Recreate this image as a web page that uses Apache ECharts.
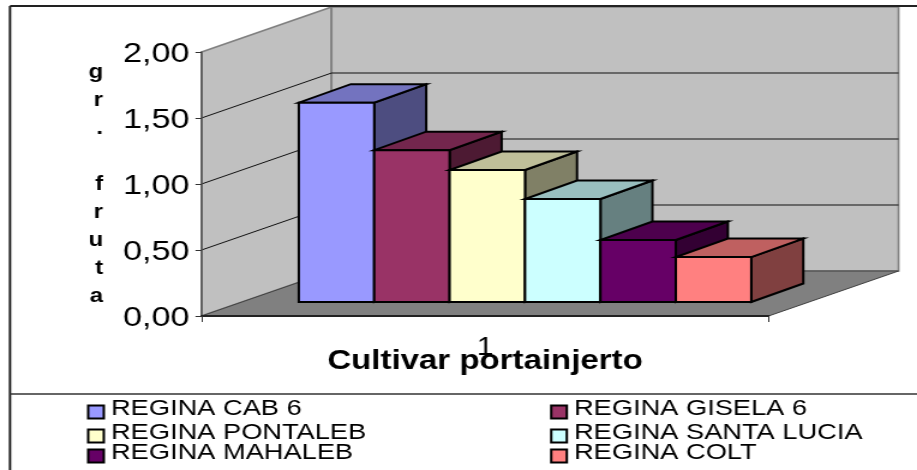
<!DOCTYPE html>
<html>
<head>
<meta charset="utf-8">
<script src="https://cdn.jsdelivr.net/npm/echarts@6/dist/echarts.min.js"></script>
<style>
html, body { margin: 0; padding: 0; overflow: hidden; background: #fff; }
/* the original picture is stretched sideways, so the whole chart is too */
#main { width: 764px; height: 470px; transform: scaleX(1.2003); transform-origin: 0 0; }
</style>
</head>
<body>
<div id="main"></div>
<script>
const categories = ["1"];
const seriesNames = [
  "REGINA CAB 6",
  "REGINA GISELA 6",
  "REGINA PONTALEB",
  "REGINA SANTA LUCIA",
  "REGINA MAHALEB",
  "REGINA COLT"
];
const seriesValues = [1.51, 1.15, 1.0, 0.78, 0.47, 0.34];
const yTicks = [0, 0.5, 1, 1.5, 2];
const yAxisTitle = "g\nr\n.\n \nf\nr\nu\nt\na";
const xAxisTitle = "Cultivar portainjerto";

const colors = ["#9999ff", "#993366", "#ffffcc", "#ccffff", "#660066", "#ff8080"];

const SX = 917 / 764;
const FONT = '"Liberation Sans", Arial, sans-serif';
// depth of the box and of the bars, in px
const WALL_DX = 130 / SX, WALL_DY = 45;
const BAR_PLANE_DX = 40 / SX, BAR_PLANE_DY = 14;
const BAR_DX = 52 / SX, BAR_DY = 18.5;
const BAR_BAND = 0.133;

// legend rows are not evenly spaced in the original
const legendLeft = [87 / SX, 550 / SX];
const legendTop = [397, 421, 441];

function shade(hex, f) {
  const n = parseInt(hex.slice(1), 16);
  const c = [n >> 16, (n >> 8) & 255, n & 255].map(v => Math.round(v * f));
  return "rgb(" + c.join(",") + ")";
}

function renderWalls(params, api) {
  const start = api.coord([0, 0]);
  const band = api.size([1, 0])[0];
  const left = start[0] - band / 2;
  const right = start[0] + band / 2;
  const y0 = start[1];
  const y2 = api.coord([0, yTicks[yTicks.length - 1]])[1];
  const children = [
    {
      type: "polygon",
      shape: { points: [[left, y0], [left + WALL_DX, y0 - WALL_DY], [left + WALL_DX, y2 - WALL_DY], [left, y2]] },
      style: { fill: "#c0c0c0", stroke: "#808080", lineWidth: 1.7 }
    },
    {
      type: "polygon",
      shape: { points: [[left + WALL_DX, y0 - WALL_DY], [right + WALL_DX, y0 - WALL_DY], [right + WALL_DX, y2 - WALL_DY], [left + WALL_DX, y2 - WALL_DY]] },
      style: { fill: "#c0c0c0", stroke: "#808080", lineWidth: 1.7 }
    },
    {
      type: "polygon",
      shape: { points: [[left, y0], [right, y0], [right + WALL_DX, y0 - WALL_DY], [left + WALL_DX, y0 - WALL_DY]] },
      style: { fill: "#808080", stroke: "#404040", lineWidth: 1 }
    }
  ];
  yTicks.slice(1, -1).forEach(t => {
    const y = api.coord([0, t])[1];
    children.push({
      type: "polyline",
      shape: { points: [[left, y], [left + WALL_DX, y - WALL_DY], [right + WALL_DX, y - WALL_DY]] },
      style: { fill: "none", stroke: "#111", lineWidth: 1 }
    });
  });
  return { type: "group", children: children };
}

function makeBarRenderer(index) {
  return function (params, api) {
    const top = api.coord([api.value(0), api.value(1)]);
    const base = api.coord([api.value(0), 0]);
    const w = api.size([1, 0])[0] * BAR_BAND;
    const x0 = top[0] + BAR_PLANE_DX + (index - seriesNames.length / 2) * w;
    const x1 = x0 + w;
    const yb = base[1] - BAR_PLANE_DY;
    const ytop = top[1] - BAR_PLANE_DY;
    const line = { stroke: "#000", lineWidth: 2, lineJoin: "miter" };
    const fill = colors[index];
    return {
      type: "group",
      children: [
        {
          type: "polygon",
          shape: { points: [[x1, yb], [x1 + BAR_DX, yb - BAR_DY], [x1 + BAR_DX, ytop - BAR_DY], [x1, ytop]] },
          style: Object.assign({ fill: shade(fill, 0.5) }, line)
        },
        {
          type: "polygon",
          shape: { points: [[x0, ytop], [x1, ytop], [x1 + BAR_DX, ytop - BAR_DY], [x0 + BAR_DX, ytop - BAR_DY]] },
          style: Object.assign({ fill: shade(fill, 0.75) }, line)
        },
        {
          type: "rect",
          shape: { x: x0, y: ytop, width: w, height: yb - ytop },
          style: Object.assign({ fill: fill }, line)
        }
      ]
    };
  };
}

const series = [
  {
    name: "walls",
    type: "custom",
    renderItem: renderWalls,
    data: [[0, 0]],
    z: 1,
    silent: true
  }
].concat(
  seriesNames.map((name, i) => ({
    name: name,
    type: "custom",
    renderItem: makeBarRenderer(i),
    data: [[0, seriesValues[i]]],
    encode: { x: 0, y: 1 },
    itemStyle: { color: colors[i] },
    z: 2 + i
  }))
);

const legends = seriesNames.map((name, i) => ({
  data: [{ name: name, icon: "rect", itemStyle: { color: colors[i], borderColor: "#000", borderWidth: 2 } }],
  left: legendLeft[i % 2],
  top: legendTop[Math.floor(i / 2)],
  padding: 0,
  itemWidth: 13,
  itemHeight: 13,
  selectedMode: false,
  formatter: n => "{t|" + n + "}",
  textStyle: {
    rich: { t: { fontFamily: FONT, fontSize: 22.7, color: "#000", padding: [0, 0, 7, 1] } }
  }
}));

const option = {
  animation: false,
  backgroundColor: "#fff",
  grid: { left: 201.5 / SX, width: 567 / SX, top: 52, height: 264, show: false },
  xAxis: {
    type: "category",
    data: categories,
    z: 10,
    name: xAxisTitle,
    nameLocation: "middle",
    nameGap: 31,
    nameMoveOverlap: false,
    nameTextStyle: { fontFamily: FONT, fontSize: 27.5, fontWeight: "bold", color: "#000" },
    axisLine: { lineStyle: { color: "#222", width: 2 } },
    axisTick: { show: true, length: 6, lineStyle: { color: "#333" } },
    axisLabel: { fontFamily: FONT, fontSize: 25, color: "#000", margin: 20 }
  },
  yAxis: {
    type: "value",
    min: 0,
    max: 2,
    interval: 0.5,
    z: 10,
    name: yAxisTitle,
    nameLocation: "middle",
    nameRotate: 0,
    nameGap: 82,
    nameMoveOverlap: false,
    nameTextStyle: { fontFamily: FONT, fontSize: 20, fontWeight: "bold", color: "#000", lineHeight: 28 },
    axisLine: { show: true, lineStyle: { color: "#555", width: 1.5 } },
    axisTick: { show: true, length: 5, lineStyle: { color: "#333" } },
    axisLabel: {
      margin: 10,
      formatter: v => "{v|" + v.toFixed(2).replace(".", ",") + "}",
      rich: { v: { fontFamily: FONT, fontSize: 28.5, color: "#000", padding: [5, 0, 0, 0] } }
    },
    splitLine: { show: false }
  },
  legend: legends,
  graphic: [
    { type: "line", z: 20, shape: { x1: 10 / SX, y1: 6, x2: 764, y2: 6 }, style: { stroke: "#222", lineWidth: 2 } },
    { type: "line", z: 20, shape: { x1: 10 / SX, y1: 6, x2: 10 / SX, y2: 470 }, style: { stroke: "#222", lineWidth: 2 } },
    { type: "line", z: 20, shape: { x1: 10 / SX, y1: 394, x2: 764, y2: 394 }, style: { stroke: "#333", lineWidth: 1.5 } }
  ],
  series: series
};

const chart = echarts.init(document.getElementById("main"));
chart.setOption(option);
</script>
</body>
</html>
